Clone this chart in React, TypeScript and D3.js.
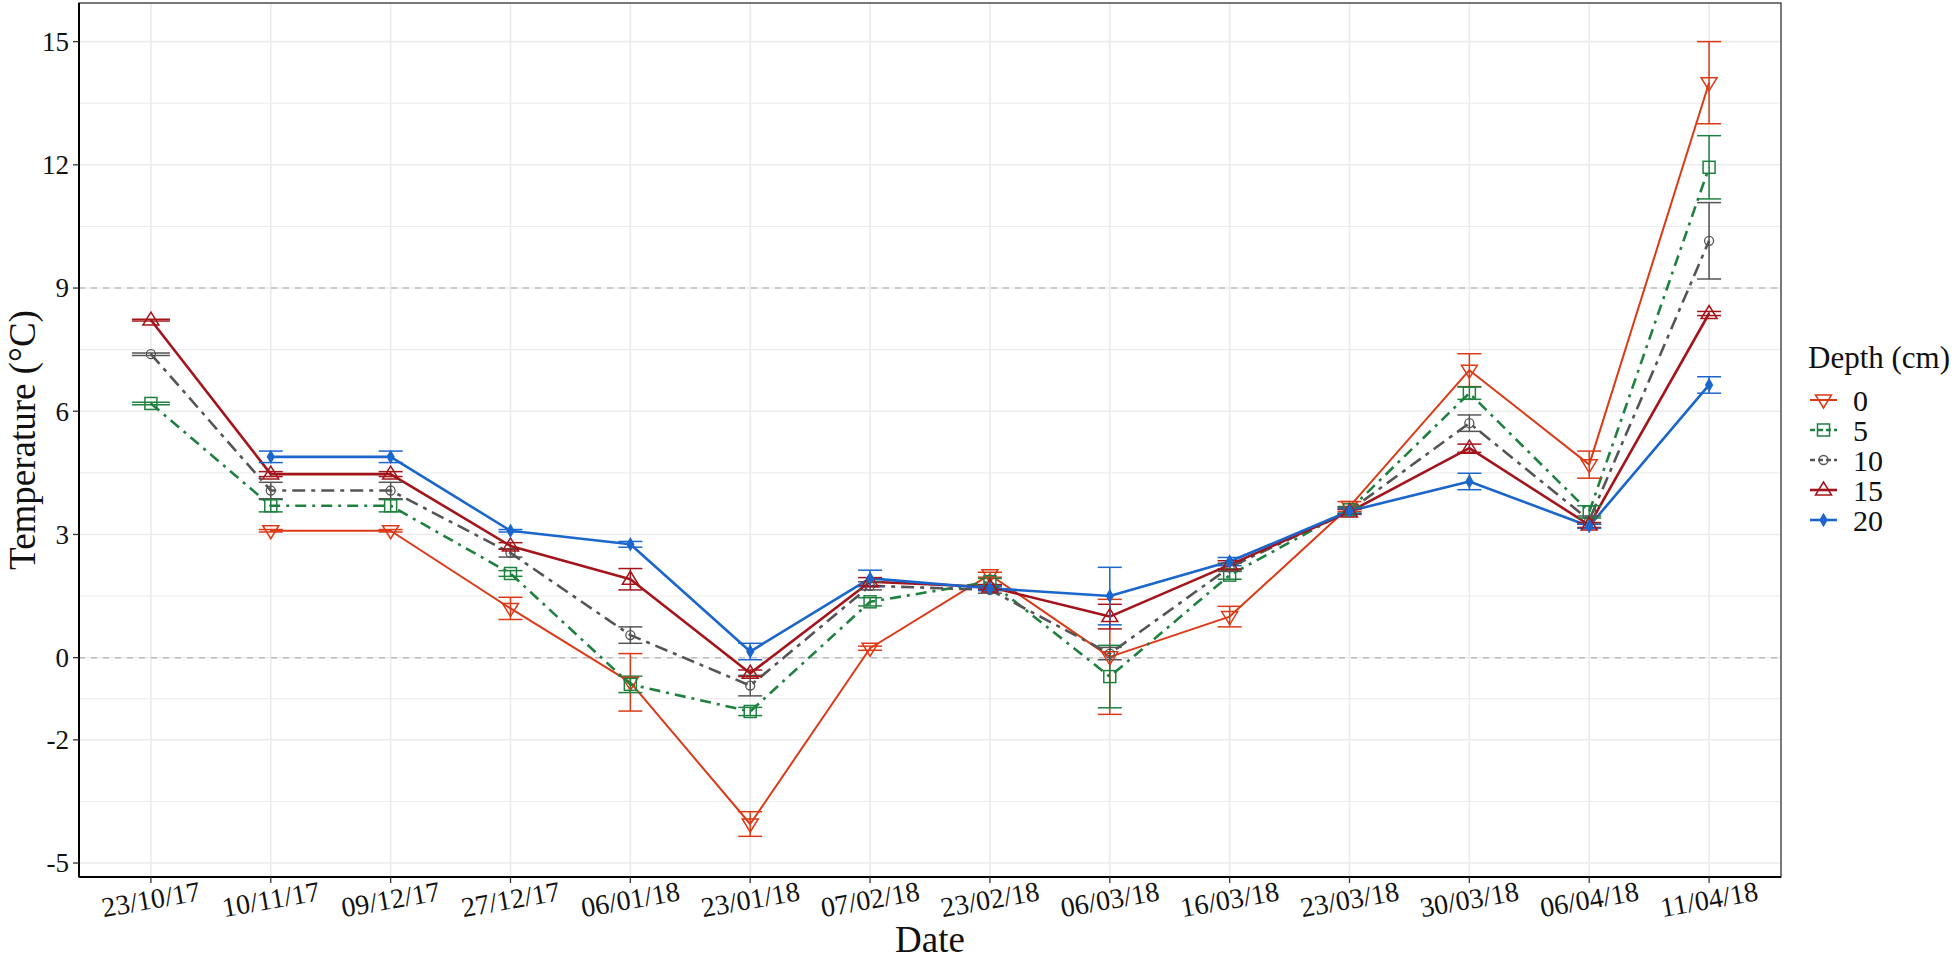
import * as d3 from "d3";

// Soil temperature by depth: mean ± error per sampling date

const DATES = [
  "23/10/17", "10/11/17", "09/12/17", "27/12/17", "06/01/18", "23/01/18", "07/02/18",
  "23/02/18", "06/03/18", "16/03/18", "23/03/18", "30/03/18", "06/04/18", "11/04/18",
];

const DEPTHS = ["0", "5", "10", "15", "20"];

const T0 = [null, 3.09, 3.09, 1.2, -0.6, -4.05, 0.23, 2.02, 0.02, 1.0, 3.68, 7.0, 4.7, 14.0];
const E0 = [null, 0.03, 0.03, 0.27, 0.7, 0.3, 0.05, 0.06, 1.4, 0.25, 0.12, 0.4, 0.33, 1.0];

const T5 = [6.19, 3.7, 3.7, 2.05, -0.65, -1.31, 1.36, 1.85, -0.46, 2.01, 3.6, 6.44, 3.55, 11.94];
const E5 = [0.03, 0.15, 0.15, 0.07, 0.2, 0.1, 0.1, 0.08, 0.76, 0.1, 0.08, 0.15, 0.15, 0.77];

const T10 = [7.39, 4.07, 4.07, 2.55, 0.55, -0.68, 1.75, 1.65, 0.1, 2.2, 3.58, 5.71, 3.35, 10.15];
const E10 = [0.03, 0.2, 0.2, 0.1, 0.2, 0.25, 0.1, 0.08, 0.15, 0.1, 0.08, 0.2, 0.1, 0.93];

const T15 = [8.22, 4.47, 4.47, 2.72, 1.91, -0.38, 1.85, 1.72, 1.0, 2.26, 3.55, 5.1, 3.23, 8.38];
const E15 = [0.02, 0.06, 0.06, 0.08, 0.26, 0.08, 0.1, 0.06, 0.3, 0.1, 0.06, 0.1, 0.06, 0.05];

const T20 = [null, 4.89, 4.89, 3.09, 2.76, 0.15, 1.93, 1.69, 1.5, 2.34, 3.57, 4.29, 3.2, 6.64];
const E20 = [null, 0.14, 0.14, 0.03, 0.07, 0.2, 0.2, 0.06, 0.7, 0.1, 0.06, 0.2, 0.05, 0.2];

const Y_TICKS = [-5, -2, 0, 3, 6, 9, 12, 15];
const Y_MINOR = [-3.5, -1, 1.5, 4.5, 7.5, 10.5, 13.5];
const REF_LINES = [0, 9];

// ---------------------------------------------------------------------------
// Styles
// ---------------------------------------------------------------------------

const FONT = "'Liberation Serif', 'Times New Roman', serif";
const GRID = "#ebebeb";

const STYLES = [
  { color: "#dc3a16", dash: "", width: 2, shape: "down" },
  { color: "#1f8040", dash: "11,6,3,6", width: 2.6, shape: "square" },
  { color: "#555555", dash: "13,6,4,6", width: 2.6, shape: "circle" },
  { color: "#a3141b", dash: "", width: 2.6, shape: "up" },
  { color: "#1b66cc", dash: "", width: 2.6, shape: "diamond" },
];

const SERIES = [T0, T5, T10, T15, T20];
const ERRORS = [E0, E5, E10, E15, E20];

const W = 1955;
const H = 962;
const PANEL = { left: 79, right: 1781, top: 3, bottom: 877 };

function Marker({ shape, color, x, y }: { shape: string; color: string; x: number; y: number }) {
  if (shape === "square") {
    return <rect x={x - 6} y={y - 6} width={12} height={12} fill="none" stroke={color} strokeWidth={1.5} />;
  }
  if (shape === "circle") {
    return <circle cx={x} cy={y} r={4.5} fill="none" stroke={color} strokeWidth={1.3} />;
  }
  if (shape === "diamond") {
    return <path d={d3.symbol(d3.symbolDiamond, 60)()!} transform={`translate(${x},${y})`} fill={color} />;
  }
  const s = shape === "up" ? -1 : 1;
  const path = `M${x - 8},${y - 5 * s}L${x + 8},${y - 5 * s}L${x},${y + 8 * s}Z`;
  return <path d={path} fill="none" stroke={color} strokeWidth={1.5} />;
}

export default function App() {
  const x = d3.scalePoint<string>().domain(DATES).range([PANEL.left, PANEL.right]).padding(0.6);
  const y = d3.scaleLinear().domain([-5.34, 15.94]).range([PANEL.bottom, PANEL.top]);

  const line = d3
    .line<number | null>()
    .defined((d) => d !== null)
    .x((_, i) => x(DATES[i])!)
    .y((d) => y(d as number));

  const legendX = 1810;
  const legendY0 = 400;
  const legendStep = 30;

  return (
    <div style={{ position: "absolute", left: 0, top: 0 }}>
      <svg width={W} height={H} style={{ display: "block", background: "white" }}>
        {/* minor grid */}
        {Y_MINOR.map((t) => (
          <line key={`m${t}`} x1={PANEL.left} x2={PANEL.right} y1={y(t)} y2={y(t)} stroke={GRID} strokeWidth={1} />
        ))}
        {/* major grid */}
        {Y_TICKS.map((t) => (
          <line key={`g${t}`} x1={PANEL.left} x2={PANEL.right} y1={y(t)} y2={y(t)} stroke={GRID} strokeWidth={1.6} />
        ))}
        {DATES.map((d) => (
          <line key={`v${d}`} x1={x(d)} x2={x(d)} y1={PANEL.top} y2={PANEL.bottom} stroke={GRID} strokeWidth={1.6} />
        ))}

        {/* reference lines */}
        {REF_LINES.map((t) => (
          <line
            key={`r${t}`}
            x1={PANEL.left}
            x2={PANEL.right}
            y1={y(t)}
            y2={y(t)}
            stroke="#bdbdbd"
            strokeWidth={1.5}
            strokeDasharray="6,6"
          />
        ))}

        {/* series lines */}
        {SERIES.map((vals, k) => (
          <path
            key={`l${k}`}
            d={line(vals) ?? ""}
            fill="none"
            stroke={STYLES[k].color}
            strokeWidth={STYLES[k].width}
            strokeDasharray={STYLES[k].dash}
            strokeLinejoin="round"
          />
        ))}

        {/* error bars */}
        {SERIES.map((vals, k) =>
          vals.map((v, i) => {
            if (v === null) return null;
            const e = ERRORS[k][i] as number;
            const cx = x(DATES[i])!;
            const hw = i === 0 ? 19 : 12;
            const c = STYLES[k].color;
            return (
              <g key={`e${k}-${i}`} stroke={c} strokeWidth={1.5}>
                <line x1={cx} x2={cx} y1={y(v + e)} y2={y(v - e)} />
                <line x1={cx - hw} x2={cx + hw} y1={y(v + e)} y2={y(v + e)} />
                <line x1={cx - hw} x2={cx + hw} y1={y(v - e)} y2={y(v - e)} />
              </g>
            );
          }),
        )}

        {/* points */}
        {SERIES.map((vals, k) =>
          vals.map((v, i) =>
            v === null ? null : (
              <Marker key={`p${k}-${i}`} shape={STYLES[k].shape} color={STYLES[k].color} x={x(DATES[i])!} y={y(v)} />
            ),
          ),
        )}

        {/* panel border */}
        <rect
          x={PANEL.left}
          y={PANEL.top}
          width={PANEL.right - PANEL.left}
          height={PANEL.bottom - PANEL.top}
          fill="none"
          stroke="#333333"
          strokeWidth={1.3}
        />
        <line x1={PANEL.left} x2={PANEL.left} y1={PANEL.top} y2={PANEL.bottom} stroke="#000" strokeWidth={2} />
        <line x1={PANEL.left} x2={PANEL.right} y1={PANEL.bottom} y2={PANEL.bottom} stroke="#000" strokeWidth={2} />

        {/* y axis */}
        {Y_TICKS.map((t) => (
          <g key={`yt${t}`}>
            <line x1={PANEL.left - 6} x2={PANEL.left} y1={y(t)} y2={y(t)} stroke="#333" strokeWidth={1.3} />
            <text
              x={PANEL.left - 10}
              y={y(t)}
              dy="0.35em"
              textAnchor="end"
              fontSize={27}
              fontFamily={FONT}
              fill="#111"
            >
              {t}
            </text>
          </g>
        ))}
        <text
          transform={`translate(35,${(PANEL.top + PANEL.bottom) / 2}) rotate(-90)`}
          textAnchor="middle"
          fontSize={37}
          fontFamily={FONT}
          fill="#111"
        >
          Temperature (°C)
        </text>

        {/* x axis */}
        {DATES.map((d) => (
          <g key={`xt${d}`}>
            <line x1={x(d)} x2={x(d)} y1={PANEL.bottom} y2={PANEL.bottom + 6} stroke="#333" strokeWidth={1.3} />
            <text
              transform={`translate(${x(d)},${PANEL.bottom + 22}) rotate(-10)`}
              dy="0.35em"
              textAnchor="middle"
              fontSize={28}
              fontFamily={FONT}
              fill="#111"
            >
              {d}
            </text>
          </g>
        ))}
        <text
          x={(PANEL.left + PANEL.right) / 2}
          y={952}
          textAnchor="middle"
          fontSize={37}
          fontFamily={FONT}
          fill="#111"
        >
          Date
        </text>

        {/* legend */}
        <text x={1808} y={368} fontSize={31} fontFamily={FONT} fill="#111">
          Depth (cm)
        </text>
        {DEPTHS.map((dep, k) => {
          const ly = legendY0 + k * legendStep;
          const s = STYLES[k];
          return (
            <g key={`lg${dep}`}>
              <line
                x1={legendX}
                x2={legendX + 27}
                y1={ly}
                y2={ly}
                stroke={s.color}
                strokeWidth={s.width}
                strokeDasharray={s.dash ? "5,3" : ""}
              />
              <Marker shape={s.shape} color={s.color} x={legendX + 13.5} y={ly} />
              <text x={1853} y={ly} dy="0.35em" fontSize={30} fontFamily={FONT} fill="#111">
                {dep}
              </text>
            </g>
          );
        })}
      </svg>
    </div>
  );
}
